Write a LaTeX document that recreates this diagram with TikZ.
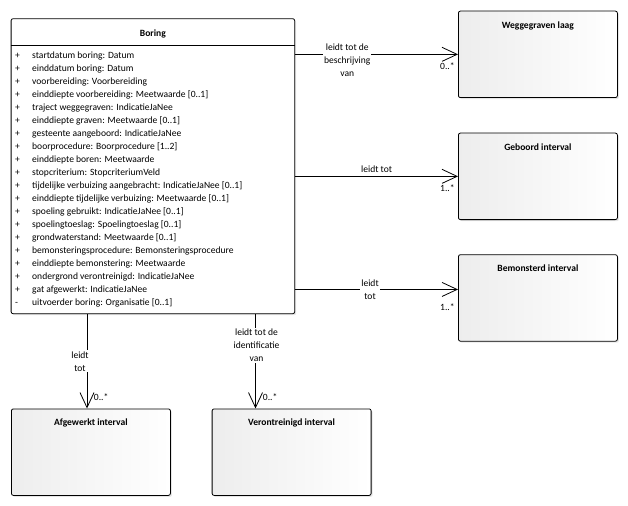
\documentclass[tikz,border=0pt]{standalone}
\usepackage{fontspec}
\setmainfont{Carlito}
\usetikzlibrary{arrows.meta,shadows,positioning,calc}

\begin{document}
\begin{tikzpicture}[x=1bp, y=-1bp, font=\fontsize{9.6}{13}\selectfont,
    box/.style = {draw, rounded corners=2bp, line width=0.8bp,
                  drop shadow={opacity=0.2, shadow xshift=1.5bp, shadow yshift=-1.5bp},
                  anchor=north west, inner sep=0pt},
    cls/.style = {box, left color=gray!14, right color=white, minimum width=159bp, minimum height=86.5bp},
    bigcls/.style = {box, fill=white, minimum width=283.6bp, minimum height=295bp},
    ttl/.style = {anchor=north, inner sep=0pt, yshift=-10.5bp, font=\fontsize{9.6}{13}\selectfont\bfseries},
    attr/.style = {anchor=base west, inner sep=0pt},
    assoc/.style = {line width=0.8bp, -{Straight Barb[length=15bp, width=14bp, line width=0.8bp]}},
    rol/.style = {fill=white, inner sep=1bp, align=center},
    mult/.style = {inner sep=0pt}]
    \useasboundingbox (0,0) rectangle (628,506);

    % the class with its attributes
    \node[bigcls, label={[ttl, yshift=-1bp]north:Boring}] (boring) at (10.7,18.3) {};
    \draw[line width=0.8bp] ([yshift=-27bp]boring.north west) -- ([yshift=-27bp]boring.north east);
    \foreach \vis/\txt [count=\i from 0] in {
        +/startdatum boring: Datum,
        +/einddatum boring: Datum,
        +/voorbereiding: Voorbereiding,
        +/einddiepte voorbereiding: Meetwaarde [0..1],
        +/traject weggegraven: IndicatieJaNee,
        +/einddiepte graven: Meetwaarde [0..1],
        +/gesteente aangeboord: IndicatieJaNee,
        +/boorprocedure: Boorprocedure [1..2],
        +/einddiepte boren: Meetwaarde,
        +/stopcriterium: StopcriteriumVeld,
        +/tijdelijke verbuizing aangebracht: IndicatieJaNee [0..1],
        +/einddiepte tijdelijke verbuizing: Meetwaarde [0..1],
        +/spoeling gebruikt: IndicatieJaNee [0..1],
        +/spoelingtoeslag: Spoelingtoeslag [0..1],
        +/grondwaterstand: Meetwaarde [0..1],
        +/bemonsteringsprocedure: Bemonsteringsprocedure,
        +/einddiepte bemonstering: Meetwaarde,
        +/ondergrond verontreinigd: IndicatieJaNee,
        +/gat afgewerkt: IndicatieJaNee,
        -/uitvoerder boring: Organisatie [0..1]} {
        \node[attr] (vis\i) at ($(boring.north west)+(4.3,40+13*\i)$) {\vis};
        \node[attr] (att\i) at ($(boring.north west)+(21.3,40+13*\i)$) {\txt};
    }

    % the related classes
    \node[cls, label={[ttl]north:Weggegraven laag}] (weg) at (458,10.7) {};
    \node[cls, label={[ttl]north:Geboord interval}] (geb) at (458,132.7) {};
    \node[cls, label={[ttl]north:Bemonsterd interval}] (bem) at (458,254.3) {};
    \node[cls, label={[ttl]north:Afgewerkt interval}] (afg) at (11,408.5) {};
    \node[cls, label={[ttl]north:Verontreinigd interval}] (ver) at (211.7,408.5) {};

    \coordinate (bemin) at ([yshift=8.5bp]bem.west);
    \coordinate (afgin) at ([xshift=76bp]afg.north west);
    \coordinate (verin) at ([xshift=43.8bp]ver.north west);

    % associations
    \draw[assoc] (boring.east |- weg.west) -- (weg.west)
        node[rol, pos=0.32, yshift=-6bp] {leidt tot de\\beschrijving\\van}
        node[mult, at end, anchor=east, xshift=-3bp, yshift=-11.7bp] {0..*};
    \draw[assoc] (boring.east |- geb.west) -- (geb.west)
        node[pos=0.5, above] {leidt tot}
        node[mult, at end, anchor=east, xshift=-3bp, yshift=-11.5bp] {1..*};
    \draw[assoc] (boring.east |- bemin) -- (bemin)
        node[rol, pos=0.46] {leidt\\tot}
        node[mult, at end, anchor=east, xshift=-3bp, yshift=-17.4bp] {1..*};
    \draw[assoc] (boring.south -| afgin) -- (afgin)
        node[rol, pos=0.5, xshift=-7bp] {leidt\\tot}
        node[mult, at end, anchor=west, xshift=6.5bp, yshift=11.5bp] {0..*};
    \draw[assoc] (boring.south -| verin) -- (verin)
        node[rol, pos=0.33, xshift=1bp] {leidt tot de\\identificatie\\van}
        node[mult, at end, anchor=west, xshift=7bp, yshift=11.5bp] {0..*};
\end{tikzpicture}
\end{document}
